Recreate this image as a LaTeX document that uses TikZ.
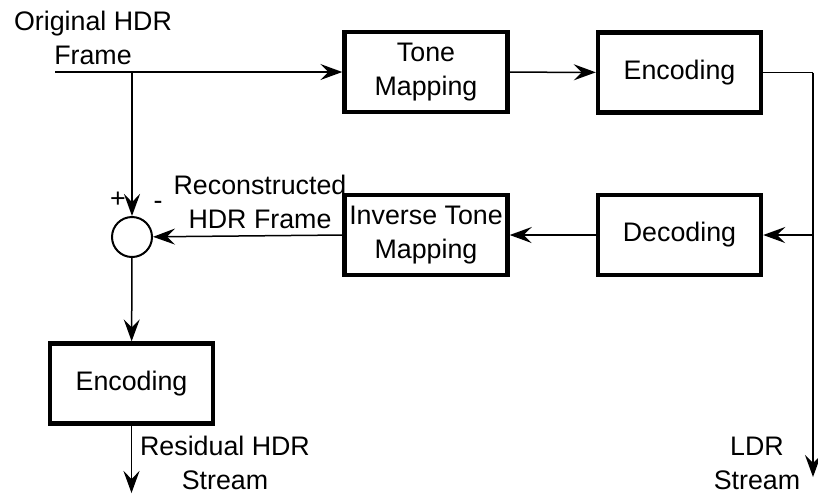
\documentclass[tikz,border=0pt]{standalone}
\usepackage{fontspec}
\setmainfont{Liberation Sans}
\usetikzlibrary{arrows.meta}
\begin{document}
\begin{tikzpicture}[x=0.5pt, y=-0.5pt,
    every node/.style={font=\fontsize{13.4}{17}\selectfont},
    block/.style={draw, line width=2.2pt, minimum width=81.5pt, minimum height=40pt, align=center, inner sep=0pt},
    sumnode/.style={circle, draw, line width=1pt, minimum size=20pt, inner sep=0pt},
    lbl/.style={align=center, inner sep=0pt},
    arr/.style={line width=0.75pt, -{Stealth[length=11pt, width=8pt, inset=4pt]}},
    wire/.style={line width=0.75pt}]
        \useasboundingbox (0,0) rectangle (818,495);

        \node[block] (tm) at (426,72) {Tone\\Mapping};
        \node[block] (enc) at (679.5,72.5) {Encoding};
        \node[block] (dec) at (679.5,235) {Decoding};
        \node[block] (itm) at (426,235) {Inverse Tone\\Mapping};
        \node[sumnode] (sum) at (132,237) {};
        \node[block] (res) at (131.5,383.5) {Encoding};

        \coordinate (in) at (55,72);
        \coordinate (split) at (132,72);
        \coordinate (corner) at (813,72.5);
        \coordinate (tap) at (813,235);
        \coordinate (ldrend) at (813,477);
        \coordinate (resend) at (131.5,493);

        \node[lbl] (src) at (93,38) {Original HDR\\Frame};
        \node[lbl] (rec) at (260,202) {Reconstructed\\HDR Frame};
        \node[lbl] (plus) at (118,200) {+};
        \node[lbl] (minus) at (158,205) {-};
        \node[lbl] (resout) at (225,463) {Residual HDR\\Stream};
        \node[lbl] (ldrout) at (757,463) {LDR\\Stream};

        \draw[arr] (in) -- (tm);
        \draw[arr] (tm) -- (enc);
        \draw[wire] (enc.east) -- (corner);
        \draw[arr] (corner) -- (ldrend);
        \draw[arr] (tap) -- (dec);
        \draw[arr] (dec) -- (itm);
        \draw[arr] (itm.west) -- (sum);
        \draw[arr] (split) -- (sum);
        \draw[arr] (sum) -- (res);
        \draw[arr] (res) -- (resend);
\end{tikzpicture}
\end{document}
